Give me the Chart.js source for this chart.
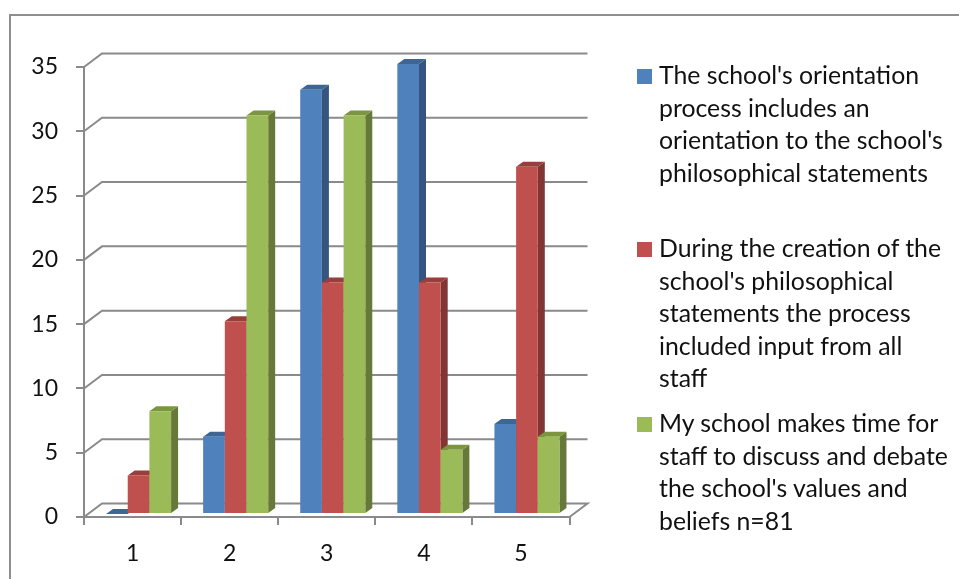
<!DOCTYPE html>
<html>
<head>
<meta charset="utf-8">
<title>Philosophical statements</title>
<script src="https://cdn.jsdelivr.net/npm/chart.js@4"></script>
<style>
  html, body { margin: 0; padding: 0; background: #fff; overflow: hidden; }
  #wrap { position: relative; width: 959px; height: 579px; font-family: Lato, sans-serif; }
  #frame { position: absolute; left: 9px; top: 14px; right: -4px; bottom: -4px; border: 2px solid #8e8e8e; }
  #chart { position: absolute; left: 0; top: 0; }
  .legend-item { position: absolute; left: 659px; font-size: 24.8px; line-height: 32.5px; color: #111; white-space: nowrap; }
  .legend-item i { position: absolute; left: -22px; top: 10px; width: 15px; height: 15px; }
</style>
</head>
<body>
<div id="wrap">
  <div id="frame"></div>
  <canvas id="chart" width="959" height="579"></canvas>
</div>
<script>
  const categories = ["1", "2", "3", "4", "5"];
  const orientationValues = [0, 6, 33, 35, 7];
  const creationValues = [3, 15, 18, 18, 27];
  const timeValues = [8, 31, 31, 5, 6];

  const orientationLabel = ["The school's orientation", "process includes an", "orientation to the school's", "philosophical statements"];
  const creationLabel = ["During the creation of the", "school's philosophical", "statements the process", "included input from all", "staff"];
  const timeLabel = ["My school makes time for", "staff to discuss and debate", "the school's values and", "beliefs n=81"];

  const legendTops = [59, 232, 407];

  const GRID = "#8a8a8a";
  const WALL_DX = 18;
  const WALL_DY = -13.5;
  const BAR_DX = 6;
  const BAR_DY = -3;
  const SIDE_DX = 7;
  const SIDE_DY = -5;

  function poly(ctx, pts, color) {
    ctx.fillStyle = color;
    ctx.beginPath();
    pts.forEach((p, i) => (i ? ctx.lineTo(p[0], p[1]) : ctx.moveTo(p[0], p[1])));
    ctx.closePath();
    ctx.fill();
  }

  function drawWall(chart) {
    const { ctx, scales } = chart;
    const left = scales.x.left;
    const right = scales.x.right;
    ctx.save();
    ctx.strokeStyle = GRID;
    ctx.lineWidth = 2;
    scales.y.ticks.forEach((t) => {
      const y = scales.y.getPixelForValue(t.value);
      ctx.beginPath();
      ctx.moveTo(left, y);
      ctx.lineTo(left + WALL_DX, y + WALL_DY);
      ctx.lineTo(right + WALL_DX, y + WALL_DY);
      if (t.value === 0) ctx.lineTo(right, y);
      ctx.stroke();
    });
    ctx.restore();
  }

  // fake 3d: back wall first, then each series left to right (the library
  // would paint them last to first, which puts side faces over the next bar)
  const depthPlugin = {
    id: "depth",
    beforeDatasetsDraw(chart) {
      const { ctx } = chart;
      drawWall(chart);
      chart.data.datasets.forEach((ds, i) => {
        const meta = chart.getDatasetMeta(i);
        ctx.save();
        ctx.translate(BAR_DX, BAR_DY);
        meta.data.forEach((bar) => {
          const l = bar.x - bar.width / 2;
          const r = bar.x + bar.width / 2;
          poly(ctx, [[r, bar.y], [r + SIDE_DX, bar.y + SIDE_DY], [r + SIDE_DX, bar.base + SIDE_DY], [r, bar.base]], ds.sideColor);
          poly(ctx, [[l, bar.y], [l + SIDE_DX, bar.y + SIDE_DY], [r + SIDE_DX, bar.y + SIDE_DY], [r, bar.y]], ds.topColor);
        });
        meta.controller.draw();
        ctx.restore();
      });
      return false;
    }
  };

  new Chart(document.getElementById("chart"), {
    type: "bar",
    data: {
      labels: categories,
      datasets: [
        { label: orientationLabel.join(" "), data: orientationValues, backgroundColor: "#4f81bd", sideColor: "#35557f", topColor: "#3d6695" },
        { label: creationLabel.join(" "), data: creationValues, backgroundColor: "#c0504d", sideColor: "#823533", topColor: "#983f3c" },
        { label: timeLabel.join(" "), data: timeValues, backgroundColor: "#9bbb59", sideColor: "#66793a", topColor: "#7b963f" }
      ]
    },
    plugins: [depthPlugin],
    options: {
      responsive: false,
      animation: false,
      categoryPercentage: 0.67,
      barPercentage: 1,
      layout: { padding: { left: 0, top: 67, right: 389.5, bottom: 0 } },
      plugins: { legend: { display: false }, tooltip: { enabled: false } },
      scales: {
        x: {
          afterFit: (s) => { s.height = 62; },
          grid: { color: GRID, lineWidth: 2, drawOnChartArea: false, tickLength: 8 },
          border: { color: GRID, width: 2 },
          ticks: { color: "#111", padding: 15, font: { family: "Lato", size: 23 }, maxRotation: 0 }
        },
        y: {
          min: 0,
          max: 35,
          afterFit: (s) => { s.width = 84; },
          grid: { color: GRID, lineWidth: 2, drawOnChartArea: false, tickLength: 8 },
          border: { color: GRID, width: 2 },
          ticks: { stepSize: 5, color: "#111", padding: 18, font: { family: "Lato", size: 23 } }
        }
      }
    }
  });

  // legend wraps at fixed places and has uneven gaps, so it is plain html
  const wrap = document.getElementById("wrap");
  [orientationLabel, creationLabel, timeLabel].forEach((lines, i) => {
    const item = document.createElement("div");
    item.className = "legend-item";
    item.style.top = legendTops[i] + "px";
    const swatch = document.createElement("i");
    swatch.style.background = ["#4f81bd", "#c0504d", "#9bbb59"][i];
    item.appendChild(swatch);
    lines.forEach((text, j) => {
      if (j) item.appendChild(document.createElement("br"));
      item.appendChild(document.createTextNode(text));
    });
    wrap.appendChild(item);
  });
</script>
</body>
</html>
